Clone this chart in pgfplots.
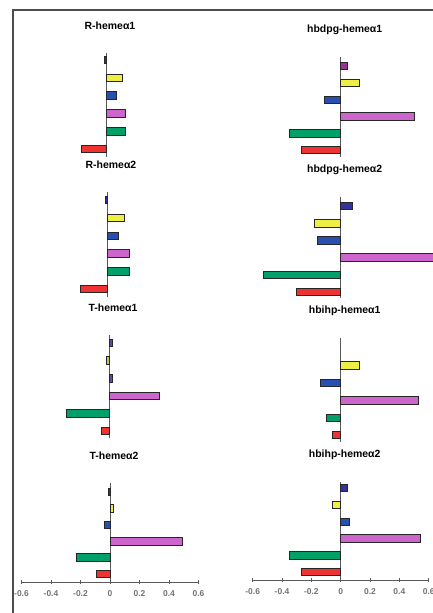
\documentclass[border=0pt]{standalone}
\usepackage{fontspec}
\setmainfont{Liberation Sans}
\usepackage{pgfplots}
\pgfplotsset{compat=1.18}
\definecolor{cnavy}{HTML}{333399}
\definecolor{cpurple}{HTML}{993399}
\definecolor{cviolet}{HTML}{6644AA}
\definecolor{cyellow}{HTML}{EEEE44}
\definecolor{cblue}{HTML}{2850B0}
\definecolor{cpink}{HTML}{CC66CC}
\definecolor{cgreen}{HTML}{00A068}
\definecolor{cred}{HTML}{EE3333}
\pgfplotsset{
  panel/.style={scale only axis, xmin=-0.6, xmax=0.6,
    axis y line=center, ytick=\empty,
    y axis line style={-, draw=black!65, line width=1pt},
    xbar, bar width=7.5bp, bar shift=0pt, clip=false,
    anchor=south west,
    every axis plot/.append style={draw=black!85, line width=0.7pt},
    title style={at={(0.5,1)}, anchor=center, yshift=21bp, xshift=4bp,
      font=\fontsize{10.5}{12}\selectfont\bfseries},
  },
  toppanel/.style={axis x line=none, xtick=\empty},
  botpanel/.style={axis x line=bottom,
    x axis line style={-, draw=black!65, line width=1pt},
    xtick={-0.6,-0.4,-0.2,0,0.2,0.4,0.6},
    tick align=center, major tick length=3.5bp,
    x tick style={draw=black!65, line width=0.8pt},
    x tick label style={font=\fontsize{8.5}{10}\selectfont\bfseries, text=black!55, yshift=-3bp},
    /pgf/number format/assume math mode=true,
    /pgf/number format/fixed, /pgf/number format/precision=1},
}
\begin{document}
\begin{tikzpicture}
\useasboundingbox (0,0) rectangle (433bp,-613bp);
\fill[white] (0,0) rectangle (433bp,-613bp);
\draw[black!70, line width=1.5bp] (13bp,-613bp) -- (13bp,-10bp) -- (433bp,-10bp);
% P1 R-heme a1
\begin{axis}[panel, toppanel, at={(17.5bp,-157bp)}, width=177bp, height=104bp, ymin=0.55, ymax=6.39, title={R-hemeα1}]
\addplot[fill=cnavy] coordinates {(-0.01,6)};
\addplot[fill=cyellow] coordinates {(0.11,5)};
\addplot[fill=cblue] coordinates {(0.07,4)};
\addplot[fill=cpink] coordinates {(0.13,3)};
\addplot[fill=cgreen] coordinates {(0.13,2)};
\addplot[fill=cred] coordinates {(-0.17,1)};
\end{axis}
% P2 R-heme a2
\begin{axis}[panel, toppanel, at={(18.5bp,-297bp)}, width=177bp, height=105bp, ymin=0.55, ymax=6.45, title={R-hemeα2}]
\addplot[fill=cnavy] coordinates {(-0.01,6)};
\addplot[fill=cyellow] coordinates {(0.12,5)};
\addplot[fill=cblue] coordinates {(0.08,4)};
\addplot[fill=cpink] coordinates {(0.15,3)};
\addplot[fill=cgreen] coordinates {(0.15,2)};
\addplot[fill=cred] coordinates {(-0.18,1)};
\end{axis}
% P3 T-heme a1
\begin{axis}[panel, toppanel, at={(20.5bp,-438bp)}, width=177bp, height=103bp, ymin=0.6, ymax=6.45, title={T-hemeα1}]
\addplot[fill=cviolet] coordinates {(0.02,6)};
\addplot[fill=cyellow!60!gray] coordinates {(-0.02,5)};
\addplot[fill=cviolet] coordinates {(0.02,4)};
\addplot[fill=cpink] coordinates {(0.34,3)};
\addplot[fill=cgreen] coordinates {(-0.29,2)};
\addplot[fill=cred] coordinates {(-0.05,1)};
\end{axis}
% P4 T-heme a2
\begin{axis}[panel, botpanel, at={(21.5bp,-582bp)}, width=177bp, height=99bp, ymin=0.51, ymax=6.55, title={T-hemeα2}]
\addplot[fill=cnavy] coordinates {(-0.01,6)};
\addplot[fill=cyellow] coordinates {(0.02,5)};
\addplot[fill=cblue] coordinates {(-0.04,4)};
\addplot[fill=cpink] coordinates {(0.49,3)};
\addplot[fill=cgreen] coordinates {(-0.23,2)};
\addplot[fill=cred] coordinates {(-0.095,1)};
\end{axis}
% P5 hbdpg-heme a1
\begin{axis}[panel, toppanel, at={(252.7bp,-157bp)}, width=176bp, height=100bp, ymin=0.58, ymax=6.54, title={hbdpg-hemeα1}]
\addplot[fill=cpurple] coordinates {(0.045,6)};
\addplot[fill=cyellow] coordinates {(0.13,5)};
\addplot[fill=cblue] coordinates {(-0.11,4)};
\addplot[fill=cpink] coordinates {(0.50,3)};
\addplot[fill=cgreen] coordinates {(-0.35,2)};
\addplot[fill=cred] coordinates {(-0.27,1)};
\end{axis}
% P6 hbdpg-heme a2
\begin{axis}[panel, toppanel, at={(252.7bp,-298bp)}, width=176bp, height=101bp, ymin=0.65, ymax=6.52, title={hbdpg-hemeα2}]
\addplot[fill=cnavy] coordinates {(0.08,6)};
\addplot[fill=cyellow] coordinates {(-0.18,5)};
\addplot[fill=cblue] coordinates {(-0.16,4)};
\addplot[fill=cpink] coordinates {(0.63,3)};
\addplot[fill=cgreen] coordinates {(-0.53,2)};
\addplot[fill=cred] coordinates {(-0.30,1)};
\end{axis}
% P7 hbihp-heme a1
\begin{axis}[panel, toppanel, at={(252.7bp,-442bp)}, width=176bp, height=104bp, ymin=0.6, ymax=6.57, title={hbihp-hemeα1}]
\addplot[fill=cyellow] coordinates {(0.13,5)};
\addplot[fill=cblue] coordinates {(-0.14,4)};
\addplot[fill=cpink] coordinates {(0.53,3)};
\addplot[fill=cgreen] coordinates {(-0.10,2)};
\addplot[fill=cred] coordinates {(-0.06,1)};
\end{axis}
% P8 hbihp-heme a2
\begin{axis}[panel, botpanel, at={(252.7bp,-580bp)}, width=176bp, height=98bp, ymin=0.52, ymax=6.36, title={hbihp-hemeα2}]
\addplot[fill=cnavy] coordinates {(0.045,6)};
\addplot[fill=cyellow] coordinates {(-0.06,5)};
\addplot[fill=cblue] coordinates {(0.06,4)};
\addplot[fill=cpink] coordinates {(0.54,3)};
\addplot[fill=cgreen] coordinates {(-0.35,2)};
\addplot[fill=cred] coordinates {(-0.27,1)};
\end{axis}
\end{tikzpicture}
\end{document}
